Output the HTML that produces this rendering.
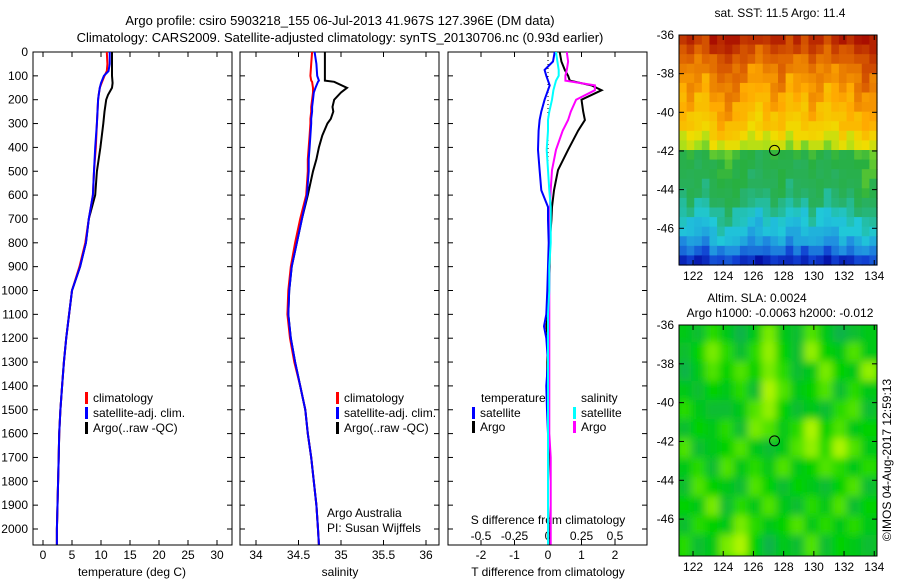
<!DOCTYPE html>
<html><head><meta charset="utf-8"><style>
html,body{margin:0;padding:0;background:#fff;}
svg{display:block;font-family:"Liberation Sans",sans-serif;}
text{fill:#000;}
</style></head><body>
<svg id="fig" width="900" height="580" viewBox="0 0 900 580">
<defs>
<clipPath id="clipSla"><rect x="679" y="325" width="198" height="231"/></clipPath>
<filter id="blurSla"><feGaussianBlur stdDeviation="4"/></filter>
</defs>
<text x="340" y="25" font-size="13" text-anchor="middle">Argo profile: csiro 5903218_155 06-Jul-2013 41.967S 127.396E (DM data)</text>
<text x="340" y="42" font-size="13" text-anchor="middle">Climatology: CARS2009. Satellite-adjusted climatology: synTS_20130706.nc (0.93d earlier)</text>
<g id="layer"></g>
<text x="327" y="517" font-size="12">Argo Australia</text>
<text x="327" y="532" font-size="12">PI: Susan Wijffels</text>
<text x="780" y="17" font-size="12" text-anchor="middle">sat. SST: 11.5 Argo: 11.4</text>
<text x="757" y="302" font-size="12" text-anchor="middle">Altim. SLA: 0.0024</text>
<text x="780" y="317" font-size="12" text-anchor="middle">Argo h1000: -0.0063 h2000: -0.012</text>
<text transform="translate(891,460) rotate(-90)" font-size="12" text-anchor="middle">©IMOS 04-Aug-2017 12:59:13</text>
</svg>
<script>
// ---------- profile data ----------
const tempDepth = [0,50,80,100,130,150,180,200,250,300,400,500,600,700,800,900,1000,1100,1200,1300,1400,1500,1600,1700,1800,1900,2000,2065];
const tempArgo  = [11.9,11.9,11.9,11.9,12.0,11.9,11.2,10.9,10.6,10.4,9.9,9.3,9.0,7.9,7.4,6.4,5.0,4.5,4.0,3.6,3.3,3.0,2.8,2.7,2.6,2.5,2.4,2.4];
const tempSat   = [11.5,11.5,11.3,10.5,10.0,9.8,9.6,9.5,9.4,9.3,9.0,8.8,8.6,7.9,7.4,6.4,5.0,4.5,4.0,3.6,3.3,3.0,2.8,2.7,2.6,2.5,2.4,2.4];
const tempClim  = [11.0,11.1,11.0,10.6,10.1,9.8,9.6,9.5,9.4,9.3,9.1,8.8,8.6,7.9,7.3,6.3,5.0,4.5,4.0,3.6,3.3,3.0,2.8,2.7,2.6,2.5,2.4,2.4];

const salDepth = [0,50,100,120,125,150,170,200,230,250,280,300,350,400,450,500,550,600,700,800,900,1000,1100,1200,1300,1400,1500,1600,1700,1800,1900,2000,2065];
const salArgo  = [34.81,34.81,34.81,34.81,34.92,35.07,35.0,34.92,34.9,34.91,34.88,34.84,34.78,34.74,34.71,34.67,34.64,34.61,34.54,34.48,34.42,34.39,34.38,34.41,34.46,34.52,34.58,34.61,34.65,34.68,34.71,34.73,34.74];
const salSat   = [34.69,34.71,34.72,34.74,34.73,34.70,34.68,34.67,34.66,34.66,34.65,34.65,34.64,34.63,34.62,34.62,34.61,34.60,34.54,34.48,34.42,34.39,34.38,34.41,34.46,34.52,34.58,34.61,34.65,34.68,34.71,34.73,34.74];
const salClim  = [34.66,34.65,34.64,34.65,34.66,34.67,34.67,34.66,34.65,34.65,34.64,34.64,34.63,34.62,34.61,34.61,34.60,34.59,34.52,34.46,34.41,34.38,34.37,34.40,34.45,34.52,34.58,34.61,34.65,34.68,34.71,34.73,34.74];

const diffDepth = [0,40,75,100,120,140,160,200,250,285,330,410,495,580,650,705,800,900,1000,1100,1150,1200,1300,1400,1500,1600,1700,1800,1900,2000,2065];
const dTArgo = [0.35,0.4,0.5,0.6,0.65,1.3,1.6,1.0,1.05,1.1,0.9,0.6,0.3,0.18,0.12,0.1,0.05,0.05,0.03,0.0,-0.05,0.0,-0.02,-0.03,0,0,0.02,0,0,0.02,0.02];
const dTSat  = [0.2,0.15,-0.1,-0.05,0.0,0.05,0.0,-0.1,-0.2,-0.25,-0.28,-0.3,-0.25,-0.2,0,0,0.02,0.0,-0.02,-0.05,-0.12,-0.05,0,-0.05,-0.03,0,0,0,0,0,0];
const dSArgo = [0.14,0.15,0.14,0.13,0.13,0.35,0.35,0.21,0.17,0.15,0.11,0.06,0.03,0.02,0.015,0.01,0.01,0.01,0.01,0.01,0.01,0.01,0.01,0.01,0.01,0.01,0.02,0.02,0.02,0.02,0.02];
const dSSat  = [0.06,0.07,0.08,0.08,0.06,0.05,0.04,0.03,0.01,0.0,0.0,-0.01,0.0,0.01,0.02,0.02,0.02,0.01,0.01,0.0,0.0,0.0,0.0,0.0,0.0,0.0,0,0,0,0,0];

const depthTicks = [0,100,200,300,400,500,600,700,800,900,1000,1100,1200,1300,1400,1500,1600,1700,1800,1900,2000];
const tempTicks = [0,5,10,15,20,25,30];
const salTicks = [34,34.5,35,35.5,36];
const salTickLabels = ["34","34.5","35","35.5","36"];
const dTTicks = [-2,-1,0,1,2];
const dSTicks = [-0.5,-0.25,0,0.25,0.5];
const dSTickLabels = ["-0.5","-0.25","0","0.25","0.5"];

// ---------- map data ----------
const latTicks = [-36,-38,-40,-42,-44,-46];
const lonTicks = [122,124,126,128,130,132,134];
const sstRows = [0.92,0.88,0.84,0.81,0.79,0.77,0.75,0.73,0.71,0.69,0.65,0.6,0.48,0.46,0.45,0.44,0.42,0.39,0.34,0.31,0.28,0.24,0.17,0.08];
const sstCols = [0.0,0.02,-0.01,-0.02,0.03,0.05,0.06,0.04,0.02,-0.01,-0.02,0.0,0.02,0.03,-0.02,0.0,-0.01,0.03,0.01,-0.02,0.0,0.02,0.01,0.04,0.06,0.05];
const sstJitter = [0.0,0.03,-0.02,0.01,-0.03,0.02,0.0,-0.01,0.03,-0.02,0.01];
const slaGrid = [
 [0.3,0.2,0.5,0.3,0.1,0.3,0.7,0.3,0.2,0.6,0.3,0.1,0.2,0.3],
 [0.2,0.4,0.7,0.5,0.2,0.5,0.8,0.4,0.2,0.8,0.4,0.3,0.6,0.3],
 [0.1,0.3,0.6,0.4,0.6,0.4,0.7,0.5,0.2,0.3,0.7,0.4,0.3,0.8],
 [0.3,0.2,0.4,0.3,0.5,0.2,0.9,0.6,0.3,0.4,0.6,0.2,0.5,0.3],
 [0.5,0.3,0.2,0.2,0.3,0.6,0.8,0.4,0.2,0.3,0.2,0.5,0.6,0.2],
 [0.2,0.4,0.3,0.5,0.2,0.7,0.6,0.3,0.5,0.9,0.4,0.6,0.3,0.4],
 [0.6,0.2,0.3,0.4,0.6,0.3,0.2,0.3,0.6,0.8,0.5,0.9,0.6,0.3],
 [0.3,0.5,0.2,0.6,0.3,0.5,0.3,0.6,0.3,0.4,0.6,0.5,0.3,0.5],
 [0.2,0.6,0.4,0.3,0.2,0.6,0.4,0.2,0.4,0.3,0.2,0.4,0.6,0.2],
 [0.4,0.3,0.7,0.2,0.5,0.3,0.6,0.3,0.2,0.5,0.3,0.6,0.2,0.4],
 [0.2,0.5,0.4,0.3,0.7,0.5,0.3,0.4,0.6,0.3,0.5,0.3,0.5,0.3],
 [0.5,0.2,0.3,0.7,0.9,0.4,0.1,0.3,0.2,0.6,0.2,0.4,0.3,0.2]
];
const floatLon = 127.396, floatLat = -41.967;

// ---------- helpers ----------
const NS = "http://www.w3.org/2000/svg";
const layer = document.getElementById("layer");
function mk(tag, attrs, parent) {
  const e = document.createElementNS(NS, tag);
  for (const k in attrs) e.setAttribute(k, attrs[k]);
  (parent || layer).appendChild(e);
  return e;
}
const Y0 = 52, YPX = (529 - 52) / 2000, YB = 545;
const yD = d => Y0 + d * YPX;
const xT = v => 43 + v * 5.8;
const xS = v => 256 + (v - 34) * 85;
const xdT = v => 548 + v * 33.5;
const xdS = v => 548 + v * 134;
const panels = [[33,232],[240,439],[448,647]];

panels.forEach((p, i) => {
  const box = mk("rect", {x:p[0], y:Y0, width:p[1]-p[0], height:YB-Y0, fill:"none", stroke:"#000", "stroke-width":1});
  
  
  depthTicks.forEach(d => {
    const l1 = mk("line", {x1:p[0], x2:p[0]+5, y1:yD(d), y2:yD(d), stroke:"#000"});
    
    
    const l2 = mk("line", {x1:p[1], x2:p[1]-5, y1:yD(d), y2:yD(d), stroke:"#000"});
    
    
  });
});
depthTicks.forEach(d => {
  const t = mk("text", {x:28, y:yD(d)+4, "font-size":12, "text-anchor":"end"});
  t.textContent = d;
  
  
});

function xTicks(vals, labels, fx, p, ly) {
  vals.forEach((v, i) => {
    const x = fx(v);
    const a = mk("line", {x1:x, x2:x, y1:YB, y2:YB-5, stroke:"#000"});
    
    
    const b = mk("line", {x1:x, x2:x, y1:Y0, y2:Y0+5, stroke:"#000"});
    
    
    const t = mk("text", {x:x, y:ly, "font-size":12, "text-anchor":"middle"});
    t.textContent = labels[i];
    
    
  });
}
xTicks(tempTicks, tempTicks.map(String), xT, panels[0], 559);
xTicks(salTicks, salTickLabels, xS, panels[1], 559);
xTicks(dTTicks, dTTicks.map(String), xdT, panels[2], 559);
dSTicks.forEach((v, i) => {
  const t = mk("text", {x:xdS(v), y:540, "font-size":12, "text-anchor":"middle"});
  t.textContent = dSTickLabels[i];
  
  
});
[["temperature (deg C)",132,"temperature-axis-title"],["salinity",340,"salinity-axis-title"],["T difference from climatology",548,"t-diff-axis-title"]].forEach(a => {
  const t = mk("text", {x:a[1], y:576, "font-size":12, "text-anchor":"middle"});
  t.textContent = a[0];
  
  
});
{
  const t = mk("text", {x:548, y:524, "font-size":12, "text-anchor":"middle"});
  t.textContent = "S difference from climatology";
  
  
}
{
  const z = mk("line", {x1:xdT(0), x2:xdT(0), y1:Y0, y2:yD(500), stroke:"#000", "stroke-dasharray":"1,3"});
  
  
}

function series(depths, vals, fx, color, name) {
  const pts = depths.map((d, i) => fx(vals[i]).toFixed(1) + "," + yD(d).toFixed(1)).join(" ");
  const pl = mk("polyline", {points:pts, fill:"none", stroke:color, "stroke-width":2, "stroke-linejoin":"miter"});
  
  
}
series(tempDepth, tempArgo, xT, "#000", "temp-argo-line");
series(tempDepth, tempClim, xT, "#ff0000", "temp-climatology-line");
series(tempDepth, tempSat, xT, "#0000ff", "temp-satellite-line");
series(salDepth, salArgo, xS, "#000", "sal-argo-line");
series(salDepth, salClim, xS, "#ff0000", "sal-climatology-line");
series(salDepth, salSat, xS, "#0000ff", "sal-satellite-line");
series(diffDepth, dTArgo, xdT, "#000", "tdiff-argo-line");
series(diffDepth, dSArgo, xdS, "#ff00ff", "sdiff-argo-line");
series(diffDepth, dTSat, xdT, "#0000ff", "tdiff-satellite-line");
series(diffDepth, dSSat, xdS, "#00ffff", "sdiff-satellite-line");

function legendEntry(mx, y, color, label) {
  const m = mk("rect", {x:mx, y:y-10, width:3, height:12, fill:color});
  
  
  const t = mk("text", {x:mx+8, y:y, "font-size":12});
  t.textContent = label;
  
  
}
[[85,"#ff0000","climatology"],[85,"#0000ff","satellite-adj. clim."],[85,"#000","Argo(..raw -QC)"]].forEach((e,i)=>legendEntry(e[0],402+i*15,e[1],e[2]));
[[336,"#ff0000","climatology"],[336,"#0000ff","satellite-adj. clim."],[336,"#000","Argo(..raw -QC)"]].forEach((e,i)=>legendEntry(e[0],402+i*15,e[1],e[2]));
{
  const t1 = mk("text", {x:481, y:402, "font-size":12}); t1.textContent = "temperature";
  
  
  const t2 = mk("text", {x:581, y:402, "font-size":12}); t2.textContent = "salinity";
  
  
}
legendEntry(472,417,"#0000ff","satellite");
legendEntry(472,431,"#000","Argo");
legendEntry(573,417,"#00ffff","satellite");
legendEntry(573,431,"#ff00ff","Argo");

// ---------- maps ----------
const cmapStops = [[0,[0,0,150]],[0.12,[16,64,210]],[0.22,[32,144,224]],[0.32,[32,200,216]],[0.42,[40,176,96]],[0.5,[40,176,64]],[0.58,[150,224,32]],[0.66,[240,220,0]],[0.76,[255,170,0]],[0.86,[220,96,0]],[1,[160,0,0]]];
const slaStops = [[0,[16,168,96]],[0.4,[0,210,0]],[0.7,[120,235,0]],[1,[200,250,0]]];
function interp(stops, t) {
  t = Math.max(0, Math.min(1, t));
  for (let i = 1; i < stops.length; i++) {
    if (t <= stops[i][0]) {
      const a = stops[i-1], b = stops[i], f = (t - a[0]) / (b[0] - a[0]);
      return "rgb(" + a[1].map((c,k)=>Math.round(c + (b[1][k]-c)*f)).join(",") + ")";
    }
  }
  const l = stops[stops.length-1][1];
  return "rgb(" + l.join(",") + ")";
}
const cmap = t => interp(cmapStops, t);
const LON0 = 121.07, LONPX = 15.1;
const xL = lon => 679 + (lon - LON0) * LONPX;
function mapFrame(top, bottom, name, heat) {
  const latPx = (bottom - top) / 11.9;
  const yL = lat => top + (-36 - lat) * latPx;
  heat(yL, latPx);
  const f = mk("rect", {x:679, y:top, width:198, height:bottom-top, fill:"none", stroke:"#000"});
  
  
  latTicks.forEach(lat => {
    const l = mk("line", {x1:679, x2:684, y1:yL(lat), y2:yL(lat), stroke:"#000"});
    
    
    const r = mk("line", {x1:877, x2:872, y1:yL(lat), y2:yL(lat), stroke:"#000"});
    
    
    const t = mk("text", {x:674, y:yL(lat)+4, "font-size":12, "text-anchor":"end"});
    t.textContent = lat;
    
    
  });
  lonTicks.forEach(lon => {
    const l = mk("line", {x1:xL(lon), x2:xL(lon), y1:bottom, y2:bottom-5, stroke:"#000"});
    
    
    const u = mk("line", {x1:xL(lon), x2:xL(lon), y1:top, y2:top+5, stroke:"#000"});
    
    
    const t = mk("text", {x:xL(lon), y:bottom+15, "font-size":12, "text-anchor":"middle"});
    t.textContent = lon;
    
    
  });
  const c = mk("circle", {cx:xL(floatLon), cy:yL(floatLat), r:5, fill:"none", stroke:"#000"});
  
  
}
mapFrame(35, 265, "sst-map", () => {
  const cw = 198 / sstCols.length, rh = (265 - 35) / sstRows.length;
  sstRows.forEach((rv, r) => {
    sstCols.forEach((cv, c) => {
      const j = sstJitter[(r * 7 + c * 3) % sstJitter.length];
      const cell = mk("rect", {x:(679 + c*cw).toFixed(2), y:(35 + r*rh).toFixed(2), width:(cw+0.6).toFixed(2), height:(rh+0.6).toFixed(2), fill:cmap(rv + cv + j)});
      
      
    });
  });
});
mapFrame(325, 556, "sla-map", () => {
  const g = mk("g", {"clip-path":"url(#clipSla)"});
  
  
  const bg = mk("rect", {x:679, y:325, width:198, height:231, fill:interp(slaStops, 0.4)}, g);
  
  
  const inner = mk("g", {filter:"url(#blurSla)"}, g);
  const rows = slaGrid.length, cols = slaGrid[0].length;
  const cw = 198 / cols, rh = 231 / rows;
  slaGrid.forEach((row, r) => row.forEach((v, c) => {
    const cell = mk("rect", {x:(679 + c*cw - 2).toFixed(2), y:(325 + r*rh - 2).toFixed(2), width:(cw+4).toFixed(2), height:(rh+4).toFixed(2), fill:interp(slaStops, v)}, inner);
    
    
  }));
});
</script>
</body></html>
